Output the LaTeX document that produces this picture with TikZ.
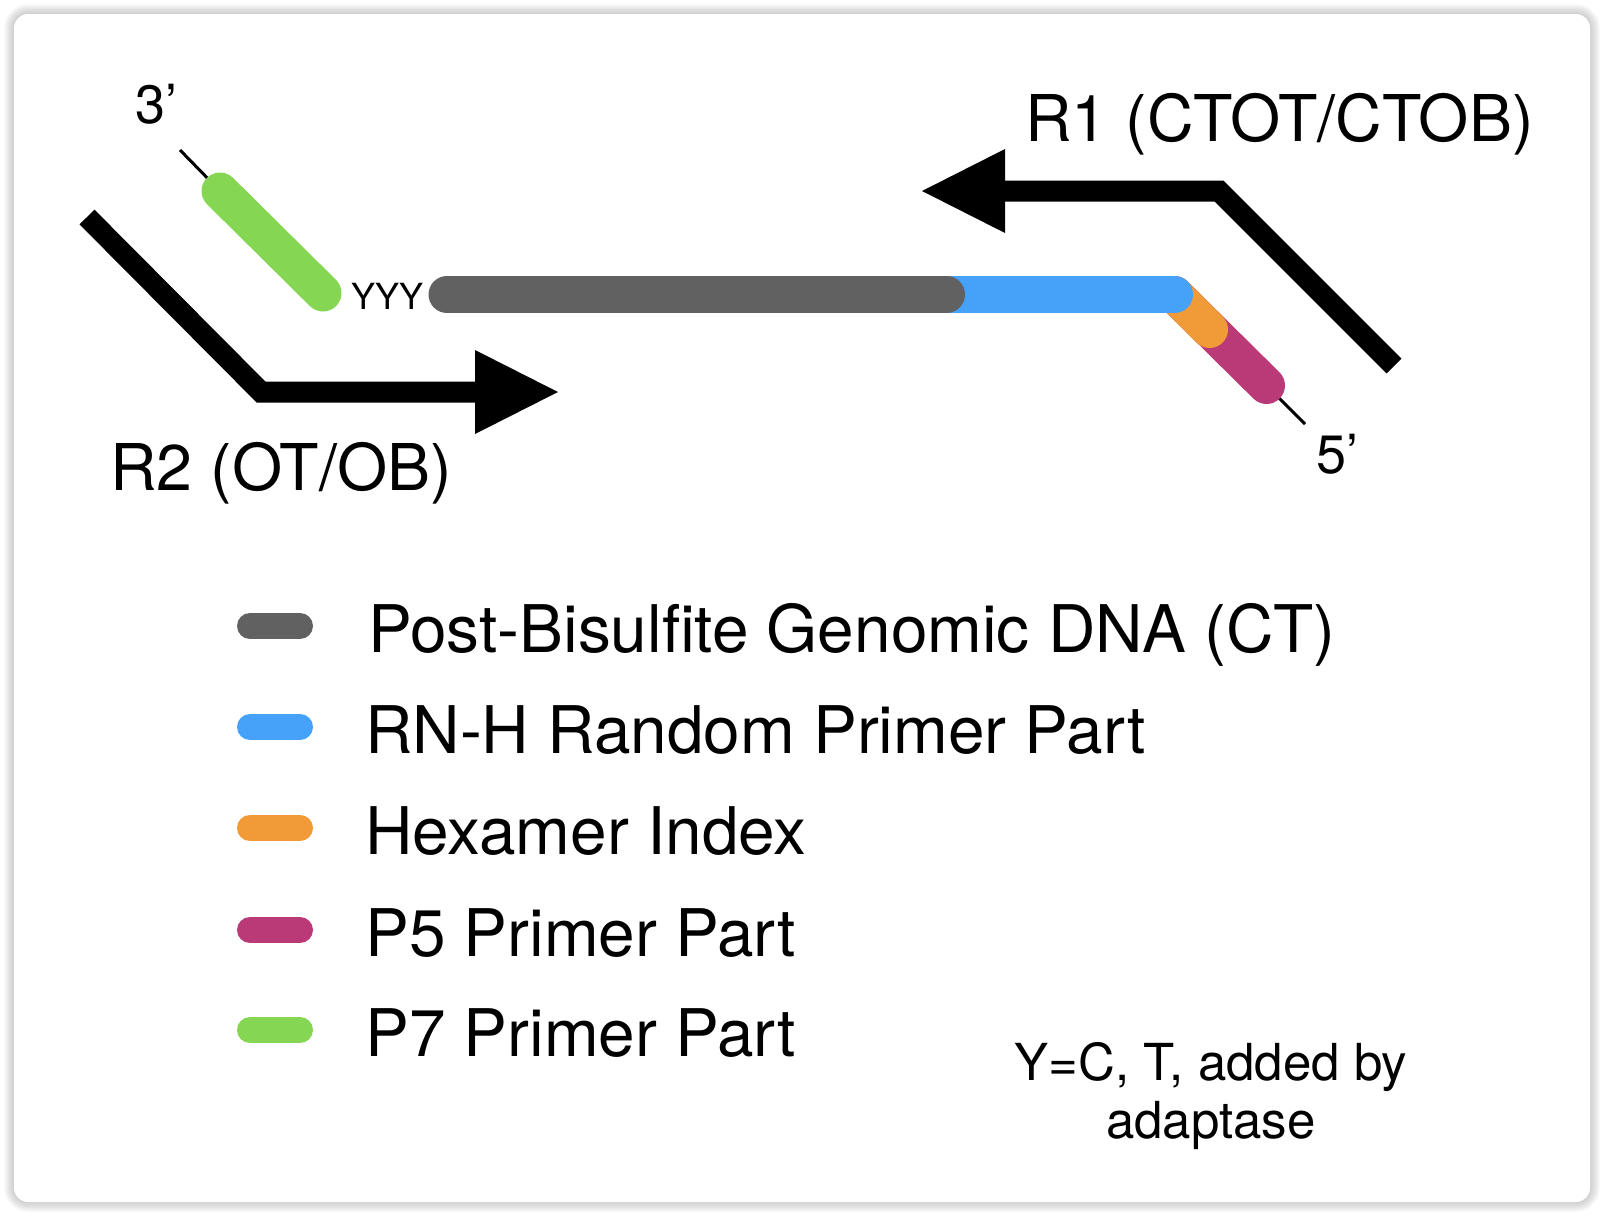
\documentclass[tikz,border=0pt]{standalone}
\usepackage{fontspec}
\setmainfont{TeX Gyre Heros}
\usetikzlibrary{arrows.meta}
\definecolor{dnagray}{RGB}{97,97,97}
\definecolor{rnhblue}{RGB}{70,162,248}
\definecolor{hexorange}{RGB}{240,154,56}
\definecolor{pfivemagenta}{RGB}{186,58,120}
\definecolor{psevengreen}{RGB}{133,214,83}
\tikzset{
  strand/.style={line width=37pt, line cap=round},
  endtick/.style={black, line width=3pt},
  readarrow/.style={black, line width=21pt, line join=miter,
                    -{Triangle[length=83pt,width=84pt,line width=0pt]}},
  swatch/.style={line width=26pt, line cap=round},
  readlab/.style={font=\fontsize{64.5}{77}\selectfont, anchor=base west, inner sep=0pt},
  legendlab/.style={font=\fontsize{65.7}{78}\selectfont, anchor=base west, inner sep=0pt},
  endlab/.style={font=\fontsize{54}{64}\selectfont, anchor=base, inner sep=0pt},
  note/.style={font=\fontsize{51}{58}\selectfont, align=center, inner sep=0pt},
}

\begin{document}
\begin{tikzpicture}[x=1pt,y=-1pt]
  \path[use as bounding box] (0,0) rectangle (1604,1216);

  % Card with a soft shadow.
  \foreach \s in {1,...,10}
    \fill[black, opacity=0.018, rounded corners={(14+\s)*1pt}]
      ({14-\s},{14-\s}) rectangle ({1590+\s},{1202+\s});
  \fill[white, rounded corners=14pt] (14,14) rectangle (1590,1202);

  % Read arrows.
  \coordinate (R2start) at (87,217);
  \coordinate (R2bend) at (261,392);
  \coordinate (R2tip) at (558,392);
  \draw[readarrow] (R2start) -- (R2bend) -- (R2tip);
  \node[readlab] (R2lab) at (110,490) {R2 (OT/OB)};

  \coordinate (R1start) at (1394,366);
  \coordinate (R1bend) at (1219,191);
  \coordinate (R1tip) at (922,191);
  \draw[readarrow] (R1start) -- (R1bend) -- (R1tip);
  \node[readlab] (R1lab) at (1025,141) {R1 (CTOT/CTOB)};

  % Library molecule.
  \coordinate (P7top) at (220,191);
  \coordinate (P7end) at (323,293);
  \coordinate (threetick) at (180,150);
  \coordinate (DNAstart) at (447,294.5);
  \coordinate (DNAend) at (946.5,294.5);
  \coordinate (RNstart) at (900,294.5);
  \coordinate (bend) at (1174.5,294.5);
  \coordinate (HexEnd) at (1209.5,329.5);
  \coordinate (P5end) at (1266.5,385.5);
  \coordinate (fivetick) at (1305,424);

  \draw[endtick] (P7top) -- (threetick);
  \draw[strand, psevengreen] (P7top) -- (P7end);
  \draw[endtick] (P5end) -- (fivetick);
  \draw[strand, pfivemagenta] (bend) -- (P5end);
  \draw[strand, hexorange] (bend) -- (HexEnd);
  \draw[strand, rnhblue] (RNstart) -- (bend);
  \draw[strand, dnagray] (DNAstart) -- (DNAend);

  \node[endlab] (threelab) at (156.5,123) {3’};
  \node[endlab] (fivelab) at (1337.5,473) {5’};
  \node[endlab, font=\fontsize{36}{43}\selectfont] (yyy) at (387.5,309) {YYY};

  % Legend.
  \foreach \col/\yy/\xx/\txt [count=\i] in {
      dnagray/626/368/{Post-Bisulfite Genomic DNA (CT)},
      rnhblue/727/365/{RN-H Random Primer Part},
      hexorange/828/365/{Hexamer Index},
      pfivemagenta/930/365/{P5 Primer Part},
      psevengreen/1030/365/{P7 Primer Part}} {
    \draw[swatch, \col] (250,\yy) -- (300,\yy);
    \node[legendlab] (leg\i) at (\xx,\yy+26) {\txt};
  }

  \node[note, anchor=north] (adaptase) at (1211,1042)
    {Y=C, T, added by\\adaptase};
\end{tikzpicture}
\end{document}
